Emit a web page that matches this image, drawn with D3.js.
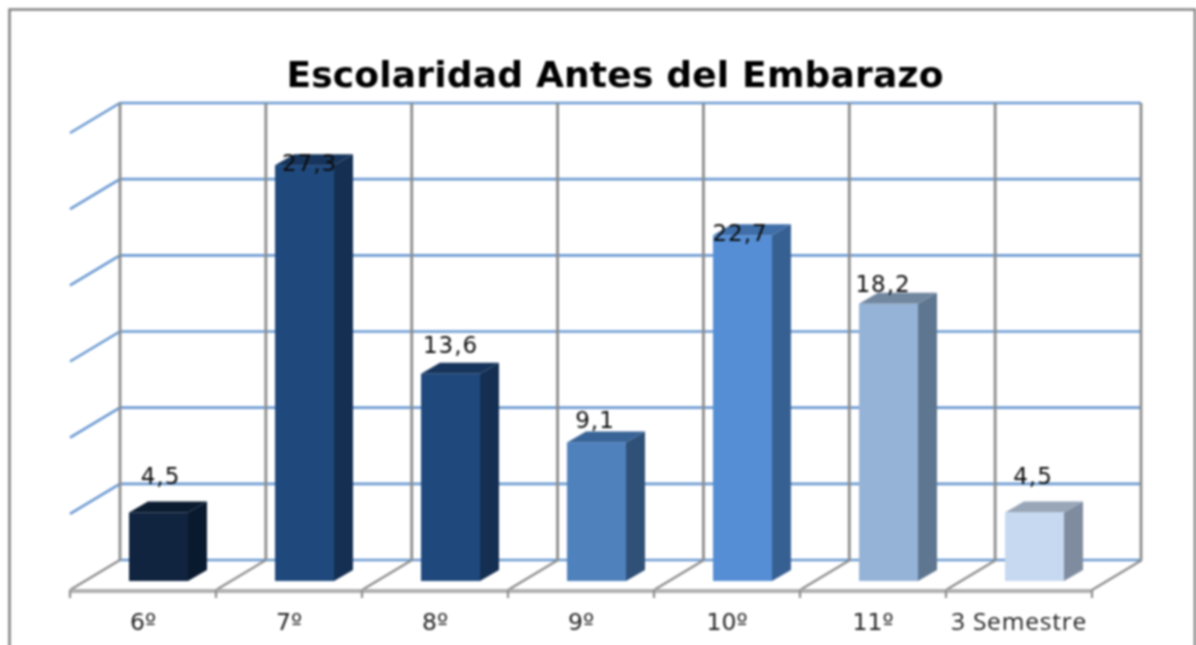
<!DOCTYPE html>
<html>
<head>
<meta charset="utf-8">
<script src="https://cdnjs.cloudflare.com/ajax/libs/d3/7.8.5/d3.min.js"></script>
<style>
  html, body { margin: 0; padding: 0; background: #fff; }
  svg { display: block; }
</style>
</head>
<body>
<svg width="1196" height="645"></svg>
<script>
// data
const title = "Escolaridad Antes del Embarazo";
const categories = ["6º", "7º", "8º", "9º", "10º", "11º", "3 Semestre"];
const values = [4.5, 27.3, 13.6, 9.1, 22.7, 18.2, 4.5];
const labels = ["4,5", "27,3", "13,6", "9,1", "22,7", "18,2", "4,5"];
const frontColors = ["#10243f", "#1f497d", "#1f497d", "#4f81bd", "#558ed5", "#95b3d7", "#c6d9f1"];
const sideColors = ["#0a1a2e", "#152f52", "#152f52", "#2f5077", "#376092", "#5f7690", "#7f8ca0"];
const topColors = ["#0c1c30", "#17355c", "#17355c", "#386498", "#3f6ea8", "#71879f", "#98a6b8"];

const svg = d3.select("svg");

// soft edges like the original picture
const soft = svg.append("defs").append("filter")
  .attr("id", "soft")
  .attr("filterUnits", "userSpaceOnUse")
  .attr("x", 0).attr("y", 0)
  .attr("width", 1196).attr("height", 645)
  .attr("color-interpolation-filters", "sRGB");
soft.append("feGaussianBlur").attr("stdDeviation", 0.8);

const root = svg.append("g").attr("filter", "url(#soft)");
root.append("rect").attr("width", 1196).attr("height", 645).attr("fill", "#fff");

// scales: back wall and the floor depth offset
const y = d3.scaleLinear().domain([0, 30]).range([560, 103]);
const xWall = d3.scaleBand().domain(categories).range([120, 1141]);
const xFront = d3.scaleBand().domain(categories).range([70, 1092]);
const xBar = d3.scaleBand().domain(categories).range([85.5, 85.5 + 146 * 7]).paddingInner(1 - 59 / 146).paddingOuter((1 - 59 / 146) / 2);
const depth = { x: -50, y: 30 };
const barBase = 581;
const barDepth = { x: 19, y: -11 };
const unit = y(0) - y(1);

// label offsets from the middle top of each bar's front
const labelDx = [2, 5, 0, -1.5, -2.5, -5.5, -1.5];
const labelDy = [-28, 6, -21, -14.5, 6, -12, -28];

const gray = "#8c8c8c";
const blue = "#6c9ad2";

// chart frame, open at the bottom
root.append("path")
  .attr("d", "M9.5,650V9.5H1195V650")
  .attr("fill", "none")
  .attr("stroke", "#858585")
  .attr("stroke-width", 2.6);

root.append("text")
  .attr("x", 615)
  .attr("y", 87)
  .attr("text-anchor", "middle")
  .attr("font-family", "DejaVu Sans")
  .attr("font-weight", "bold")
  .attr("font-size", 36)
  .attr("letter-spacing", 0.2)
  .attr("fill", "#000")
  .text(title);

// horizontal gridlines on wall and left side
const ticks = y.ticks(6);
root.selectAll(".grid")
  .data(ticks)
  .enter().append("path")
  .attr("class", "grid")
  .attr("fill", "none")
  .attr("stroke", blue)
  .attr("stroke-width", 2.6)
  .attr("d", d => d === 0
    ? `M120,${y(d)}H1141`
    : `M${120 + depth.x},${y(d) + depth.y}L120,${y(d)}H1141`);

// vertical wall lines
const wallXs = categories.map(c => xWall(c)).concat(xWall.range()[1]);
root.selectAll(".wall")
  .data(wallXs)
  .enter().append("line")
  .attr("class", "wall")
  .attr("x1", d => d).attr("x2", d => d)
  .attr("y1", y(30)).attr("y2", y(0))
  .attr("stroke", gray)
  .attr("stroke-width", 2.8);

// floor diagonals
const frontXs = categories.map(c => xFront(c)).concat(xFront.range()[1]);
root.selectAll(".floor")
  .data(frontXs)
  .enter().append("line")
  .attr("class", "floor")
  .attr("x1", d => d).attr("y1", y(0) + depth.y)
  .attr("x2", d => d - depth.x).attr("y2", y(0))
  .attr("stroke", gray)
  .attr("stroke-width", 2.2);

// front edge of the floor with its tick marks
root.append("line")
  .attr("x1", 70).attr("x2", 1092)
  .attr("y1", y(0) + depth.y + 1).attr("y2", y(0) + depth.y + 1)
  .attr("stroke", "#b0b0b0")
  .attr("stroke-width", 4);
root.selectAll(".edge")
  .data(frontXs)
  .enter().append("line")
  .attr("class", "edge")
  .attr("x1", d => d).attr("x2", d => d)
  .attr("y1", y(0) + depth.y).attr("y2", y(0) + depth.y + 8)
  .attr("stroke", gray)
  .attr("stroke-width", 2.2);

// category labels
const xAxis = root.append("g")
  .attr("transform", `translate(0,${y(0) + depth.y + 1})`)
  .call(d3.axisBottom(xFront).tickSize(0).tickPadding(22));
xAxis.select(".domain").remove();
xAxis.selectAll("text")
  .attr("font-family", "DejaVu Sans")
  .attr("font-size", 23.5)
  .attr("fill", "#222");
xAxis.selectAll("text")
  .filter(d => d === "3 Semestre")
  .attr("font-family", "Open Sans")
  .attr("font-size", 24.5)
  .attr("letter-spacing", 0.8);

// 3D bars
const barData = categories.map((c, i) => ({ c, i, v: values[i] }));
const bars = root.selectAll(".bar")
  .data(barData)
  .enter().append("g")
  .attr("class", "bar");

bars.append("path")
  .attr("fill", d => sideColors[d.i])
  .attr("d", d => {
    const x1 = xBar(d.c) + xBar.bandwidth();
    const top = barBase - d.v * unit;
    return `M${x1},${top}l${barDepth.x},${barDepth.y}V${barBase + barDepth.y}l${-barDepth.x},${-barDepth.y}Z`;
  });

bars.append("path")
  .attr("fill", d => topColors[d.i])
  .attr("d", d => {
    const x0 = xBar(d.c);
    const top = barBase - d.v * unit;
    return `M${x0},${top}l${barDepth.x},${barDepth.y}h${xBar.bandwidth()}l${-barDepth.x},${-barDepth.y}Z`;
  });

bars.append("rect")
  .attr("x", d => xBar(d.c))
  .attr("y", d => barBase - d.v * unit)
  .attr("width", xBar.bandwidth())
  .attr("height", d => d.v * unit)
  .attr("fill", d => frontColors[d.i]);

// value labels
root.selectAll(".value")
  .data(barData)
  .enter().append("text")
  .attr("class", "value")
  .attr("x", d => xBar(d.c) + xBar.bandwidth() / 2 + labelDx[d.i])
  .attr("y", d => barBase - d.v * unit + labelDy[d.i])
  .attr("text-anchor", "middle")
  .attr("font-family", "DejaVu Sans")
  .attr("font-size", 23)
  .attr("letter-spacing", 1)
  .attr("fill", "#0c0c0c")
  .text(d => labels[d.i]);
</script>
</body>
</html>
